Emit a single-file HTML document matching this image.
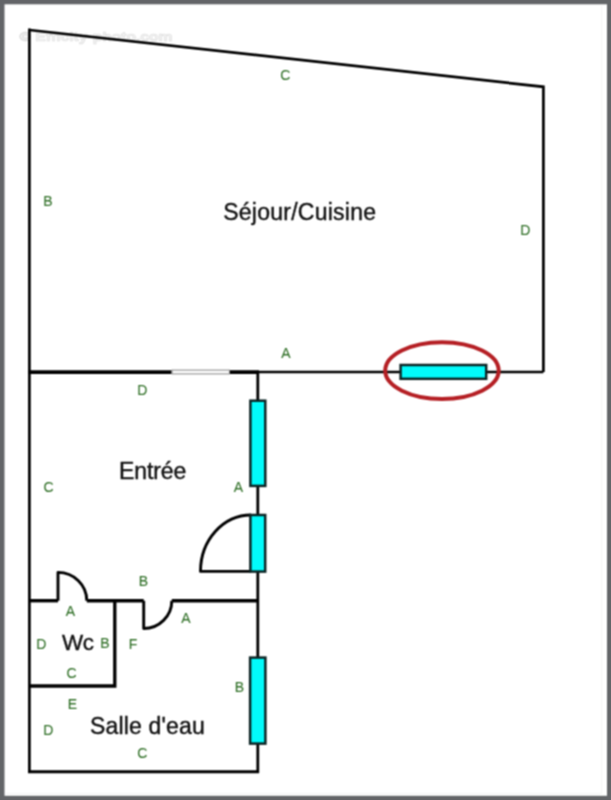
<!DOCTYPE html>
<html><head><meta charset="utf-8">
<style>
html,body{margin:0;padding:0;background:#fff;}
body{width:611px;height:800px;overflow:hidden;}
svg{display:block;}
.l{font-family:"Liberation Sans",sans-serif;font-size:14px;fill:#2e6e25;stroke:#2e6e25;stroke-width:0.08px;}
.t{font-family:"Liberation Sans",sans-serif;font-size:23px;fill:#111;stroke:#111;stroke-width:0.4px;}
</style></head><body>
<svg width="611" height="800" viewBox="0 0 611 800">
<defs><filter id="bl" x="0" y="0" width="611" height="800" filterUnits="userSpaceOnUse" color-interpolation-filters="sRGB"><feConvolveMatrix order="3" kernelMatrix="1 2 1 2 4 2 1 2 1" divisor="16" edgeMode="duplicate"/></filter></defs>
<g filter="url(#bl)">
<rect x="0" y="0" width="611" height="800" fill="#636568"/>
<rect x="4.5" y="4.3" width="602.5" height="791.5" fill="#fff"/>
<path d="M601.6 6 V794 M6 793.4 H601" stroke="#f4f4f4" stroke-width="1" fill="none"/>
<text x="19.5" y="41" font-family="Liberation Sans" font-size="13" font-weight="bold" fill="#f6f6f6" stroke="#dadada" stroke-width="0.6" textLength="153" lengthAdjust="spacingAndGlyphs">© Efficity-photo.com</text>
<g stroke="#000" fill="none" stroke-linejoin="miter">
  <!-- sejour -->
  <path d="M29.4 30 L543.4 86.8 L543.4 372" stroke-width="2.7"/>
  <path d="M29.4 28.6 L29.4 773" stroke-width="2.7"/>
  <path d="M28 372.1 L171.6 372.1" stroke-width="3.8"/>
  <path d="M229.4 372.1 L259 372.1" stroke-width="3.8"/>
  <path d="M259 372 L543.4 372" stroke-width="2.6"/>
  <!-- vertical wall -->
  <path d="M257.8 372 L257.8 773" stroke-width="2.8"/>
  <!-- horizontal y=601 -->
  <path d="M29.4 600.7 L58 600.7" stroke-width="3.4"/>
  <path d="M86.8 600.7 L143.7 600.7" stroke-width="3.4"/>
  <path d="M171.8 600.7 L257.7 600.7" stroke-width="3.4"/>
  <!-- wc -->
  <path d="M114.8 600.7 L114.8 686 L29.4 686" stroke-width="3.3"/>
  <!-- bottom -->
  <path d="M28 771.7 L259 771.7" stroke-width="3"/>
  <!-- doors -->
  <path d="M58 600.7 L58 572.4 A28.8 28.3 0 0 1 86.8 600.7" stroke-width="2.9" stroke-linejoin="round"/>
  <path d="M143.7 600.7 L143.7 628.5 A28.1 27.8 0 0 0 171.8 600.7" stroke-width="2.9" stroke-linejoin="round"/>
  <path d="M251 515 A50.5 56.4 0 0 0 200.5 571.4 L251 571.4" stroke-width="2.9" stroke-linejoin="round"/>
</g>
<!-- window -->
<rect x="172" y="370.1" width="57.4" height="3.8" fill="#fff" stroke="#858585" stroke-width="1"/>
<!-- cyan -->
<g fill="#02fbfb" stroke="#0b2424" stroke-width="2.5">
  <rect x="400.6" y="365" width="85.6" height="13.8"/>
  <rect x="250.4" y="400.7" width="14.9" height="85.2"/>
  <rect x="250.4" y="515" width="14.8" height="56.6"/>
  <rect x="250.1" y="657.6" width="15.3" height="86"/>
</g>
<ellipse cx="441.95" cy="370.6" rx="56.75" ry="28.4" fill="none" stroke="#b51f24" stroke-width="4"/>
<!-- labels -->
<g class="l" text-anchor="middle">
  <text x="285.2" y="80.4">C</text>
  <text x="48" y="206.2">B</text>
  <text x="525.4" y="234.9">D</text>
  <text x="285.9" y="357.6">A</text>
  <text x="142.3" y="394.9">D</text>
  <text x="48.6" y="491.6">C</text>
  <text x="238.5" y="491.7">A</text>
  <text x="143.4" y="586.2">B</text>
  <text x="70.5" y="616.3">A</text>
  <text x="185.8" y="623.2">A</text>
  <text x="41.3" y="649.2">D</text>
  <text x="104.9" y="647.7">B</text>
  <text x="133" y="649">F</text>
  <text x="71.5" y="677.5">C</text>
  <text x="72.3" y="709">E</text>
  <text x="239.3" y="692">B</text>
  <text x="48.2" y="734.8">D</text>
  <text x="142.4" y="757.6">C</text>
</g>
<g class="t">
  <text x="223.2" y="219.5" textLength="152.8" lengthAdjust="spacing">Séjour/Cuisine</text>
  <text x="119" y="478.6" textLength="67.2" lengthAdjust="spacing">Entrée</text>
  <text x="62" y="649.8" font-size="22.4" textLength="32" lengthAdjust="spacing">Wc</text>
  <text x="90" y="734" textLength="114.8" lengthAdjust="spacing">Salle d'eau</text>
</g>
</g>
</svg>
</body></html>
